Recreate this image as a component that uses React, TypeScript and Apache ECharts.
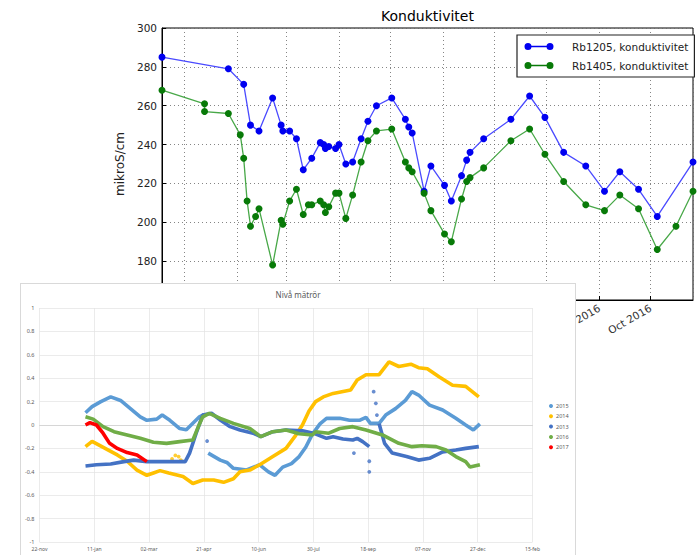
import React, { useEffect, useRef } from "react";
import * as echarts from "echarts";

// ---------- Top chart: Konduktivitet ----------
const konduktivitetTitel = "Konduktivitet";
const konduktivitetEnhet = "mikroS/cm";
const rb1205Namn = "Rb1205, konduktivitet";
const rb1405Namn = "Rb1405, konduktivitet";

const rb1205Datum = [
  "2015-12-19", "2016-01-27", "2016-02-05", "2016-02-09", "2016-02-14", "2016-02-22", "2016-02-27", "2016-02-28",
  "2016-03-03", "2016-03-07", "2016-03-11", "2016-03-16", "2016-03-21", "2016-03-23", "2016-03-24", "2016-03-26",
  "2016-03-30", "2016-04-01", "2016-04-05", "2016-04-09", "2016-04-14", "2016-04-18", "2016-04-23", "2016-05-02",
  "2016-05-10", "2016-05-12", "2016-05-14", "2016-05-21", "2016-05-25", "2016-06-02", "2016-06-06", "2016-06-12",
  "2016-06-15", "2016-06-17", "2016-06-25", "2016-07-11", "2016-07-22", "2016-07-31", "2016-08-11", "2016-08-24",
  "2016-09-04", "2016-09-13", "2016-09-24", "2016-10-05", "2016-10-26",
];
const rb1205Varden = [
  285, 279, 271, 250, 247, 264, 250, 247, 247, 243, 227, 233, 241, 240, 238, 239, 238, 240, 230, 231, 243, 252, 260,
  264, 253, 249, 246, 216, 229, 219, 211, 224, 232, 236, 243, 253, 265, 254, 236, 229, 216, 226, 217, 203, 231,
];

const rb1405Datum = [
  "2015-12-19", "2016-01-13", "2016-01-13", "2016-01-27", "2016-02-03", "2016-02-05", "2016-02-07", "2016-02-09",
  "2016-02-12", "2016-02-14", "2016-02-22", "2016-02-27", "2016-02-28", "2016-03-03", "2016-03-07", "2016-03-11",
  "2016-03-14", "2016-03-16", "2016-03-21", "2016-03-23", "2016-03-24", "2016-03-26", "2016-03-30", "2016-04-01",
  "2016-04-05", "2016-04-09", "2016-04-14", "2016-04-18", "2016-04-23", "2016-05-02", "2016-05-10", "2016-05-12",
  "2016-05-14", "2016-05-21", "2016-05-25", "2016-06-02", "2016-06-06", "2016-06-12", "2016-06-15", "2016-06-17",
  "2016-06-25", "2016-07-11", "2016-07-22", "2016-07-31", "2016-08-11", "2016-08-24", "2016-09-04", "2016-09-13",
  "2016-09-24", "2016-10-05", "2016-10-16", "2016-10-26",
];
const rb1405Varden = [
  268, 261, 257, 256, 245, 233, 211, 198, 203, 207, 178, 201, 199, 211, 217, 204, 209, 209, 211, 209, 205, 208, 215,
  215, 202, 214, 231, 242, 247, 248, 231, 228, 226, 215, 206, 194, 190, 212, 221, 223, 228, 242, 248, 235, 221, 209,
  206, 214, 207, 186, 198, 216,
];

const yTicksKond = { min: 160, max: 300, interval: 20 };
const manadsNamn = ["Jan", "Feb", "Mar", "Apr", "May", "Jun", "Jul", "Aug", "Sep", "Oct", "Nov", "Dec"];

// ---------- Bottom chart: Nivå mätrör ----------
const nivaTitel = "Nivå mätrör";
// x = days after 22-nov (axis start), one tick every 50 days
const nivaXEtiketter = ["22-nov", "11-jan", "02-mar", "21-apr", "10-jun", "30-jul", "18-sep", "07-nov", "27-dec", "15-feb"];
const nivaSerieNamn = ["2015", "2014", "2013", "2016", "2017"];
const nivaFarger = ["#5b9bd5", "#ffc000", "#4472c4", "#70ad47", "#ff0000"];

const niva2015 = [
  [42, 0.105], [48, 0.157], [56, 0.2], [65, 0.24], [74, 0.21], [83, 0.14], [92, 0.07], [98, 0.04], [107, 0.05],
  [112, 0.085], [119, 0.04], [128, -0.03], [134, -0.04], [140, 0.015], [146, 0.07], [150, 0.09], [152, null],
  [154, -0.24], [165, -0.3], [171, -0.32], [177, -0.37], [189, -0.385], [201, -0.34], [209, -0.4], [215, -0.43],
  [222, -0.36], [230, -0.33], [237, -0.27], [243, -0.19], [249, -0.08], [256, 0.01], [262, 0.057], [274, 0.057],
  [283, 0.04], [292, 0.04], [298, 0.065], [302, 0.014], [310, 0.014], [316, 0.085], [325, 0.14], [334, 0.21],
  [340, 0.285], [346, 0.256], [356, 0.17], [368, 0.128], [380, 0.057], [389, 0], [396, -0.043], [402, 0.01],
];
const niva2014 = [
  [42, -0.185], [48, -0.14], [54, -0.17], [62, -0.21], [71, -0.256], [80, -0.31], [89, -0.385], [98, -0.43],
  [104, -0.41], [110, -0.39], [118, -0.41], [131, -0.44], [140, -0.5], [149, -0.47], [159, -0.47], [168, -0.49],
  [177, -0.46], [183, -0.4], [192, -0.385], [201, -0.34], [213, -0.27], [225, -0.2], [233, -0.1], [240, 0.0],
  [246, 0.12], [252, 0.2], [259, 0.24], [268, 0.27], [284, 0.3], [290, 0.385], [298, 0.43], [310, 0.43],
  [319, 0.54], [328, 0.5], [339, 0.52], [346, 0.49], [354, 0.48], [365, 0.41], [377, 0.34], [389, 0.33], [401, 0.24],
];
const niva2014Strapunkter = [[121, -0.29], [124, -0.26], [127, -0.27], [129, -0.3]];
const niva2013 = [
  [42, -0.35], [52, -0.34], [65, -0.333], [77, -0.313], [86, -0.3], [98, -0.313], [110, -0.313], [122, -0.313],
  [133, -0.313], [137, -0.24], [143, -0.07], [149, 0.085], [157, 0.1], [165, 0.043], [174, -0.014], [183, -0.043],
  [195, -0.07], [202, -0.1], [213, -0.057], [225, -0.043], [240, -0.05], [250, -0.07], [262, -0.114], [268, -0.1],
  [277, -0.12], [286, -0.128], [290, -0.114], [295, -0.142], [301, -0.185], [303, null], [310, 0.01],
  [315, -0.157], [322, -0.24], [335, -0.27], [346, -0.3], [356, -0.285], [368, -0.23], [380, -0.214],
  [389, -0.2], [401, -0.185],
];
const niva2013Strapunkter = [[153, -0.137], [287, -0.24], [301, -0.31], [301, -0.4], [305, 0.285], [307, 0.185], [308, 0.085]];
const niva2016 = [
  [42, 0.07], [49, 0.05], [58, -0.014], [68, -0.057], [80, -0.085], [92, -0.114], [104, -0.148], [116, -0.157],
  [128, -0.142], [140, -0.128], [145, -0.014], [149, 0.07], [155, 0.1], [165, 0.057], [177, 0.014], [192, -0.03],
  [202, -0.1], [213, -0.057], [225, -0.043], [237, -0.075], [249, -0.085], [252, -0.057], [264, -0.07],
  [274, -0.03], [286, -0.014], [298, -0.043], [313, -0.085], [328, -0.157], [340, -0.185], [349, -0.177],
  [362, -0.185], [371, -0.214], [380, -0.27], [389, -0.313], [393, -0.36], [402, -0.34],
];
const niva2017 = [
  [42, 0], [46, 0.02], [52, 0], [58, -0.07], [64, -0.157], [71, -0.2], [80, -0.236], [89, -0.256], [98, -0.313],
];
const nivaY = { min: -1, max: 1, interval: 0.2 };
const nivaX = { min: 0, max: 450, interval: 50 };

function lokalTid(s: string): number {
  const [y, m, d] = s.split("-").map(Number);
  return new Date(y, m - 1, d).getTime();
}

const legendIkon =
  "path://M0,0 L0.01,0 L0,0.01 Z M44,10 L43.99,10 L44,9.99 Z " +
  "M1.5,5 A3.5,3.5 0 1,1 8.5,5 A3.5,3.5 0 1,1 1.5,5 Z " +
  "M23.5,5 A3.5,3.5 0 1,1 30.5,5 A3.5,3.5 0 1,1 23.5,5 Z " +
  "M5,4.3 L27,4.3 L27,5.7 L5,5.7 Z";

export default function App() {
  const topRef = useRef<HTMLDivElement>(null);
  const botRef = useRef<HTMLDivElement>(null);

  useEffect(() => {
    document.body.style.margin = "0";
    const top = echarts.init(topRef.current!, null, { renderer: "svg" });
    const bot = echarts.init(botRef.current!, null, { renderer: "svg" });
    const font = "DejaVu Sans";

    const blaData = rb1205Datum.map((d, i) => [lokalTid(d), rb1205Varden[i]]);
    const gronData = rb1405Datum.map((d, i) => [lokalTid(d), rb1405Varden[i]]);

    top.setOption({
      animation: false,
      backgroundColor: "#fff",
      textStyle: { fontFamily: font },
      title: {
        text: konduktivitetTitel,
        left: 381,
        top: 9,
        padding: 0,
        textStyle: { fontSize: 14, fontWeight: "normal", color: "#000", fontFamily: font },
      },
      legend: {
        orient: "vertical",
        left: 517,
        top: 35,
        padding: [6, 6, 6, 6],
        itemGap: 8,
        itemWidth: 44,
        itemHeight: 10,
        backgroundColor: "#fff",
        borderColor: "#222",
        borderWidth: 1.2,
        textStyle: { fontSize: 10.5, color: "#222", fontFamily: font },
        data: [
          { name: rb1205Namn, icon: legendIkon },
          { name: rb1405Namn, icon: legendIkon },
        ],
      },
      grid: {
        left: 162,
        right: 5,
        top: 28,
        bottom: 255,
        show: true,
        borderColor: "#000",
        borderWidth: 1,
        containLabel: false,
      },
      xAxis: {
        type: "time",
        min: blaData[0][0],
        max: blaData[blaData.length - 1][0],
        minInterval: 28 * 86400000,
        maxInterval: 31 * 86400000,
        axisLine: { lineStyle: { color: "#000", width: 1 } },
        axisTick: { inside: true, length: 4, lineStyle: { color: "#000" } },
        axisLabel: {
          rotate: 30,
          fontSize: 10.5,
          color: "#333",
          margin: 7,
          fontFamily: font,
          formatter: (v: number) => {
            const d = new Date(v);
            return manadsNamn[d.getMonth()] + " " + d.getFullYear();
          },
        },
        splitLine: { show: true, lineStyle: { color: "#666", type: [1, 3], width: 0.8 } },
      },
      yAxis: {
        type: "value",
        min: yTicksKond.min,
        max: yTicksKond.max,
        interval: yTicksKond.interval,
        name: konduktivitetEnhet,
        nameLocation: "middle",
        nameGap: 22,
        nameTextStyle: { fontSize: 12, color: "#222", fontFamily: font },
        axisLine: { show: true, lineStyle: { color: "#000", width: 1 } },
        axisTick: { show: true, inside: true, length: 4, lineStyle: { color: "#000" } },
        axisLabel: { fontSize: 10.5, color: "#222", margin: 5, fontFamily: font },
        splitLine: { show: true, lineStyle: { color: "#666", type: [1, 3], width: 0.8 } },
      },
      series: [
        {
          name: rb1205Namn,
          type: "line",
          data: blaData,
          symbol: "circle",
          symbolSize: 7,
          showAllSymbol: true,
          itemStyle: { color: "#0000f0" },
          lineStyle: { color: "#4a4aff", width: 1.3 },
        },
        {
          name: rb1405Namn,
          type: "line",
          data: gronData,
          symbol: "circle",
          symbolSize: 7,
          showAllSymbol: true,
          itemStyle: { color: "#087a08" },
          lineStyle: { color: "#48a848", width: 1.3 },
        },
      ],
    });

    const nivaSerier = [niva2015, niva2014, niva2013, niva2016, niva2017];
    const lineSeries = nivaSerier.map((d, i) => ({
      name: nivaSerieNamn[i],
      type: "line",
      data: d,
      showSymbol: false,
      connectNulls: false,
      itemStyle: { color: nivaFarger[i] },
      lineStyle: { color: nivaFarger[i], width: 3.6 },
      z: 2 + i,
    }));
    const strays = [
      { name: nivaSerieNamn[1], type: "scatter", data: niva2014Strapunkter, symbolSize: 3.8, itemStyle: { color: nivaFarger[1] }, z: 3 },
      { name: nivaSerieNamn[2], type: "scatter", data: niva2013Strapunkter, symbolSize: 3.8, itemStyle: { color: nivaFarger[2] }, z: 4 },
    ];
    const bfont = "Noto Sans";
    bot.setOption({
      animation: false,
      backgroundColor: "#fff",
      textStyle: { fontFamily: bfont },
      title: {
        text: nivaTitel,
        left: "center",
        top: 6,
        padding: 0,
        textStyle: { fontSize: 8, fontWeight: "normal", color: "#595959", fontFamily: bfont },
      },
      legend: {
        orient: "vertical",
        left: 528,
        top: 119,
        padding: 0,
        itemGap: 4.3,
        itemWidth: 4,
        itemHeight: 4,
        icon: "circle",
        textStyle: { fontSize: 5.5, color: "#595959", fontFamily: bfont, padding: [0, 0, 0, -2] },
        data: nivaSerieNamn,
      },
      grid: { left: 18.5, right: 42.5, top: 24, bottom: 14, containLabel: false },
      xAxis: {
        type: "value",
        min: nivaX.min,
        max: nivaX.max,
        interval: nivaX.interval,
        axisLine: { show: true, lineStyle: { color: "#d0d0d0", width: 0.8 } },
        axisTick: { show: false },
        axisLabel: {
          fontSize: 5,
          color: "#595959",
          margin: 4,
          fontFamily: bfont,
          formatter: (v: number) => nivaXEtiketter[Math.round(v / nivaX.interval)] ?? "",
        },
        splitLine: { show: true, lineStyle: { color: "#e3e3e3", width: 0.7 } },
      },
      yAxis: {
        type: "value",
        min: nivaY.min,
        max: nivaY.max,
        interval: nivaY.interval,
        axisLine: { show: false },
        axisTick: { show: false },
        axisLabel: {
          fontSize: 5.5,
          color: "#595959",
          margin: 5,
          fontFamily: bfont,
          formatter: (v: number) => String(Number(v.toFixed(1))),
        },
        splitLine: { show: true, lineStyle: { color: "#e3e3e3", width: 0.7 } },
      },
      series: [...lineSeries, ...strays],
    });

    return () => {
      top.dispose();
      bot.dispose();
    };
  }, []);

  return (
    <div style={{ position: "fixed", left: 0, top: 0, width: 698, height: 555, overflow: "hidden", background: "#fff" }}>
      <div ref={topRef} style={{ position: "absolute", left: 0, top: 0, width: 698, height: 555 }} />
      <div
        style={{
          position: "absolute",
          left: 20,
          top: 283,
          width: 556,
          height: 274,
          border: "1px solid #d9d9d9",
          boxSizing: "border-box",
          background: "#fff",
        }}
      >
        <div ref={botRef} style={{ width: 554, height: 272 }} />
      </div>
    </div>
  );
}
